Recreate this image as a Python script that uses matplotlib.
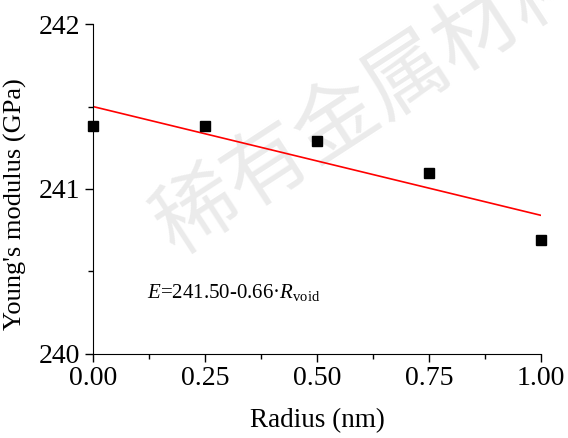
import matplotlib
matplotlib.use("Agg")
import matplotlib.pyplot as plt
import numpy as np

# data
radius = [0.00, 0.25, 0.50, 0.75, 1.00]
modulus = [241.38, 241.38, 241.29, 241.10, 240.69]
fit_intercept = 241.50
fit_slope = -0.66
xticks = [0.00, 0.25, 0.50, 0.75, 1.00]
yticks = [240, 241, 242]

plt.rcParams['font.family'] = ['Liberation Serif', 'DejaVu Serif']
plt.rcParams['mathtext.fontset'] = 'custom'
plt.rcParams['mathtext.rm'] = 'Liberation Serif'
plt.rcParams['mathtext.it'] = 'Liberation Serif:italic'

fig = plt.figure(figsize=(5.68, 4.38), dpi=100)
ax = fig.add_axes([0.1637, 0.192, 0.789, 0.753])
ax.set_zorder(1)  # keep the data above the watermark

# watermark
fig.text(0.655, 0.775, '稀有金属材料', fontsize=60, color='#ebebeb', rotation=33,
         ha='center', va='center', family=['Noto Sans CJK SC', 'DejaVu Sans'],
         zorder=0)

xfit = np.array([radius[0], radius[-1]])
ax.plot(xfit, fit_intercept + fit_slope * xfit, color='red', lw=1.2, zorder=2)
ax.plot(radius, modulus, 's', color='black', markersize=7, zorder=3, clip_on=False)

ax.set_xlim(0, 1)
ax.set_ylim(240, 242)
ax.set_xticks(xticks)
ax.set_xticklabels(['%.2f' % v for v in xticks])
ax.set_yticks(yticks)
ax.set_xticks([0.125, 0.375, 0.625, 0.875], minor=True)
ax.set_yticks([240.5, 241.5], minor=True)
ax.tick_params(which='major', direction='out', length=6, width=1, labelsize=20, pad=3)
ax.tick_params(which='minor', direction='out', length=3.5, width=1)
for s in ['top', 'right']:
    ax.spines[s].set_visible(False)
ax.patch.set_alpha(0)

ax.set_xlabel('Radius (nm)', fontsize=19.5, labelpad=12)
ax.set_ylabel("Young's modulus (GPa)", fontsize=19)
ax.yaxis.set_label_coords(-0.148, 0.455)

ax.text(0.12, 0.17, r'$E$=241.50-0.66·$R$$_{\rm void}$', transform=ax.transAxes,
        fontsize=15)

fig.savefig('out.png', dpi=100)
